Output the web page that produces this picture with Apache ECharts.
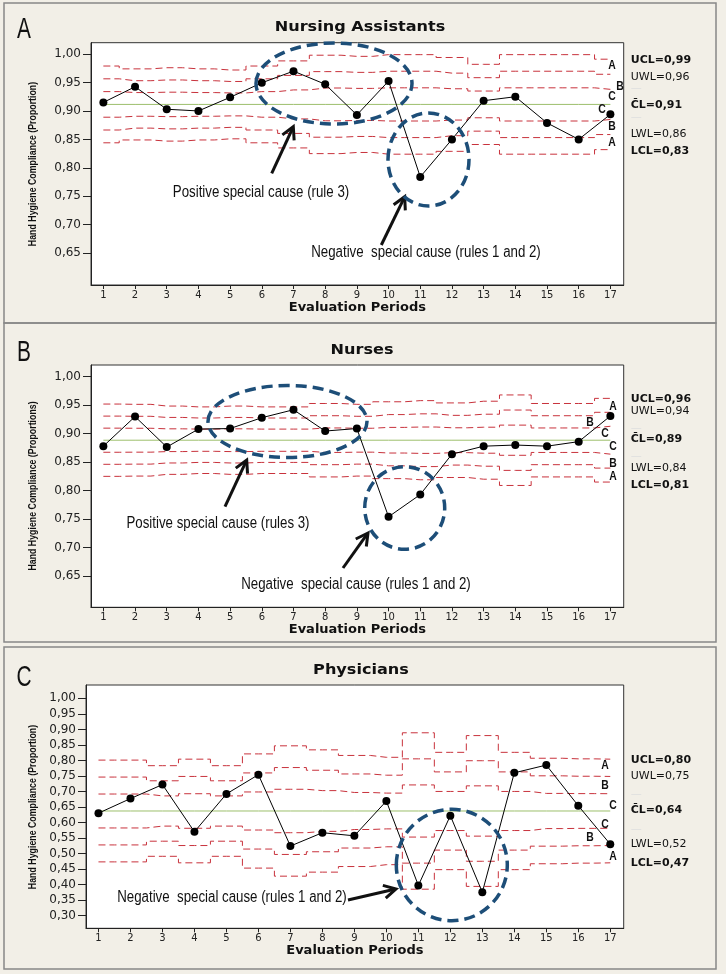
<!DOCTYPE html>
<html>
<head>
<meta charset="utf-8">
<script src="https://cdn.jsdelivr.net/npm/echarts@6/dist/echarts.min.js"></script>
<style>
html, body { margin: 0; padding: 0; background: #f2efe7; }
#chart { width: 726px; height: 974px; }
</style>
</head>
<body>
<div id="chart"></div>
<script>
// evaluation periods
var periods = [1, 2, 3, 4, 5, 6, 7, 8, 9, 10, 11, 12, 13, 14, 15, 16, 17];

// A - nursing assistants
var propA = [0.915, 0.9425, 0.903, 0.900, 0.924, 0.9495, 0.970, 0.947, 0.893, 0.9525, 0.784, 0.850, 0.918, 0.925, 0.879, 0.850, 0.894];
var uclA = [0.979, 0.974, 0.976, 0.974, 0.972, 0.979, 0.988, 0.998, 0.996, 0.999, 0.999, 0.994, 0.982, 0.999, 0.999, 0.999, 0.991];
var clA = 0.9115;
var limitLabelsA = ['UCL=0,99', 'UWL=0,96', '\u2014', '\u2014', 'LWL=0,86', 'LCL=0,83'];
var clLabelA = 'C\u0304L=0,91';

// B - nurses
var propB = [0.878, 0.930, 0.8765, 0.908, 0.909, 0.928, 0.942, 0.9046, 0.909, 0.754, 0.793, 0.864, 0.878, 0.880, 0.878, 0.886, 0.931];
var uclB = [0.952, 0.9515, 0.9485, 0.947, 0.9485, 0.947, 0.947, 0.953, 0.9515, 0.956, 0.958, 0.954, 0.957, 0.968, 0.953, 0.953, 0.962];
var clB = 0.8885;
var limitLabelsB = ['UCL=0,96', 'UWL=0,94', '\u2014', '\u2014', 'LWL=0,84', 'LCL=0,81'];
var clLabelB = 'C\u0304L=0,89';

// C - physicians
var propC = [0.630, 0.677, 0.722, 0.570, 0.692, 0.754, 0.524, 0.567, 0.557, 0.669, 0.397, 0.622, 0.375, 0.760, 0.785, 0.654, 0.530];
var uclC = [0.801, 0.801, 0.783, 0.804, 0.783, 0.821, 0.847, 0.834, 0.816, 0.810, 0.889, 0.826, 0.880, 0.826, 0.807, 0.805, 0.804];
var clC = 0.637;
var limitLabelsC = ['UCL=0,80', 'UWL=0,75', '\u2014', '\u2014', 'LWL=0,52', 'LCL=0,47'];
var clLabelC = 'C\u0304L=0,64';

// y tick values
var yTicksAB = [0.65, 0.70, 0.75, 0.80, 0.85, 0.90, 0.95, 1.00];
var yTicksC = [0.30, 0.35, 0.40, 0.45, 0.50, 0.55, 0.60, 0.65, 0.70, 0.75, 0.80, 0.85, 0.90, 0.95, 1.00];

var RED = '#c8323c';
var GREEN = '#9dbf6c';
var BLUE = '#1d4e78';
var ARIAL = '"Liberation Sans", Arial, sans-serif';
var VERD = '"DejaVu Sans", Verdana, sans-serif';

function fmt(v) { return v.toFixed(2).replace('.', ','); }

function xAxisFor(gi) {
    return {
        type: 'value', gridIndex: gi, min: 0.61, max: 17.42,
        name: 'Evaluation Periods', nameLocation: 'middle', nameGap: 15,
        nameTextStyle: { fontFamily: VERD, fontWeight: 'bold', fontSize: 13, color: '#111' },
        axisLine: { lineStyle: { color: '#222' } },
        axisTick: { customValues: periods, length: 4, lineStyle: { color: '#222' } },
        axisLabel: { customValues: periods, fontFamily: VERD, fontSize: 10, color: '#222', margin: 5 },
        splitLine: { show: false }
    };
}

function yAxisFor(gi, min, max, ticks) {
    return {
        type: 'value', gridIndex: gi, min: min, max: max,
        axisLine: { show: true, lineStyle: { color: '#222' } },
        axisTick: { show: true, customValues: ticks, length: 8, lineStyle: { color: '#222' } },
        axisLabel: { customValues: ticks, formatter: fmt, fontFamily: VERD, fontSize: 12, color: '#222', margin: 10 },
        splitLine: { show: false }
    };
}

function panelSeries(gi, prop, ucl, cl, labels, clLabel) {
    var out = [];
    // zone limits: +-1, 2, 3 sigma around the centre line
    [3, 2, 1, -1, -2, -3].forEach(function(k, j) {
        var vals = ucl.map(function(u) { return cl + k / 3 * (u - cl); });
        var outer = Math.abs(k) === 3;
        out.push({
            type: 'line', xAxisIndex: gi, yAxisIndex: gi, step: 'middle',
            symbol: 'none', silent: true, z: 2,
            lineStyle: { color: RED, width: 1, type: [7, 4] },
            data: periods.map(function(p, i) { return [p, vals[i]]; }),
            markLine: {
                symbol: 'none', silent: true, lineStyle: { color: 'rgba(0,0,0,0)', width: 0 },
                data: [{ yAxis: vals[vals.length - 1] }],
                label: {
                    show: true, position: 'end', distance: 7, formatter: labels[j],
                    fontFamily: VERD, fontSize: 11,
                    fontWeight: outer ? 'bold' : 'normal',
                    color: Math.abs(k) === 1 ? '#dedede' : '#111'
                }
            }
        });
    });
    out.push({
        type: 'line', xAxisIndex: gi, yAxisIndex: gi, symbol: 'none', silent: true, z: 2,
        lineStyle: { color: GREEN, width: 1 },
        data: periods.map(function(p) { return [p, cl]; }),
        markLine: {
            symbol: 'none', silent: true, lineStyle: { color: 'rgba(0,0,0,0)', width: 0 },
            data: [{ yAxis: cl }],
            label: { show: true, position: 'end', distance: 7, formatter: clLabel, fontFamily: VERD, fontSize: 11, fontWeight: 'bold', color: '#111' }
        }
    });
    out.push({
        type: 'line', xAxisIndex: gi, yAxisIndex: gi, z: 5,
        symbol: 'circle', symbolSize: 8,
        itemStyle: { color: '#000' }, lineStyle: { color: '#000', width: 1 },
        data: periods.map(function(p, i) { return [p, prop[i]]; })
    });
    return out;
}

function txt(x, y, s, font, sx, rot) {
    return {
        type: 'text', x: x, y: y, z: 50, scaleX: sx || 1, rotation: rot || 0,
        style: { text: s, font: font, fill: '#111', textAlign: 'center', textVerticalAlign: 'middle', align: 'center', verticalAlign: 'middle' }
    };
}

function ellipse(cx, cy, rx, ry) {
    return {
        type: 'ellipse', z: 60, silent: true,
        shape: { cx: cx, cy: cy, rx: rx, ry: ry },
        style: { fill: 'none', stroke: BLUE, lineWidth: 3.5, lineDash: [11, 6] }
    };
}

function arrow(x1, y1, x2, y2) {
    var dx = x2 - x1, dy = y2 - y1, L = Math.sqrt(dx * dx + dy * dy);
    var ux = dx / L, uy = dy / L, h = 12, w = 6.5;
    var bx = x2 - ux * h, by = y2 - uy * h;
    return [
        { type: 'line', z: 55, shape: { x1: x1, y1: y1, x2: x2 - ux * 1.5, y2: y2 - uy * 1.5 }, style: { stroke: '#111', lineWidth: 3 } },
        { type: 'polyline', z: 55, shape: { points: [[bx - uy * w, by + ux * w], [x2, y2], [bx + uy * w, by - ux * w]] }, style: { stroke: '#111', lineWidth: 3, fill: null } }
    ];
}

var bigFont = '29px ' + ARIAL;
var titleFont = 'bold 14px ' + VERD;
var noteFont = '16px ' + ARIAL;
var zoneFont = 'bold 13px ' + ARIAL;
var yNameFont = 'bold 11px ' + ARIAL;
var R90 = Math.PI / 2;
var NS = 0.83;

var graphics = [
    { type: 'rect', z: -10, shape: { x: 4, y: 3, width: 712, height: 320 }, style: { fill: 'none', stroke: '#888', lineWidth: 1.5 } },
    { type: 'rect', z: -10, shape: { x: 4, y: 323, width: 712, height: 319 }, style: { fill: 'none', stroke: '#888', lineWidth: 1.5 } },
    { type: 'rect', z: -10, shape: { x: 4, y: 647, width: 712, height: 322 }, style: { fill: 'none', stroke: '#888', lineWidth: 1.5 } },

    txt(24, 30, 'A', bigFont, 0.72), txt(24, 353, 'B', bigFont, 0.72), txt(24, 678, 'C', bigFont, 0.72),
    txt(360, 27, 'Nursing Assistants', titleFont, 1.15),
    txt(362, 350, 'Nurses', titleFont, 1.15),
    txt(361, 670, 'Physicians', titleFont, 1.15),

    txt(33, 164, 'Hand Hygiene Compliance (Proportion)', yNameFont, 0.8, R90),
    txt(33, 486, 'Hand Hygiene Compliance (Proportions)', yNameFont, 0.8, R90),
    txt(33, 807, 'Hand Hygiene Compliance (Proportion)', yNameFont, 0.8, R90),

    // panel A notes
    ellipse(334, 83.5, 78, 40.5),
    ellipse(428.5, 159.5, 40.5, 46.5),
    txt(261, 193, 'Positive special cause (rule 3)', noteFont, NS),
    txt(426, 253, 'Negative  special cause (rules 1 and 2)', noteFont, NS),
    txt(612, 65, 'A', zoneFont, 0.8), txt(620, 86, 'B', zoneFont, 0.8), txt(612, 96, 'C', zoneFont, 0.8),
    txt(602, 109, 'C', zoneFont, 0.8), txt(612, 126, 'B', zoneFont, 0.8), txt(612, 142, 'A', zoneFont, 0.8),

    // panel B notes
    ellipse(287.5, 421.5, 79.5, 36),
    ellipse(404.7, 508, 40, 41.3),
    txt(218, 524, 'Positive special cause (rules 3)', noteFont, NS),
    txt(356, 585, 'Negative  special cause (rules 1 and 2)', noteFont, NS),
    txt(613, 406, 'A', zoneFont, 0.8), txt(590, 422, 'B', zoneFont, 0.8), txt(605, 433, 'C', zoneFont, 0.8),
    txt(613, 446, 'C', zoneFont, 0.8), txt(613, 463, 'B', zoneFont, 0.8), txt(613, 476, 'A', zoneFont, 0.8),

    // panel C notes
    ellipse(451.8, 865, 55.5, 55.7),
    txt(232, 898, 'Negative  special cause (rules 1 and 2)', noteFont, NS),
    txt(605, 765, 'A', zoneFont, 0.8), txt(605, 785, 'B', zoneFont, 0.8), txt(613, 805, 'C', zoneFont, 0.8),
    txt(605, 824, 'C', zoneFont, 0.8), txt(590, 837, 'B', zoneFont, 0.8), txt(613, 856, 'A', zoneFont, 0.8)
]
.concat(arrow(271.7, 173.3, 293.3, 126.7))
.concat(arrow(381.3, 245, 404.7, 196.7))
.concat(arrow(225, 506.7, 246.7, 460))
.concat(arrow(343, 568, 368, 533))
.concat(arrow(348, 900, 396, 889));

var chart = echarts.init(document.getElementById('chart'), null, { renderer: 'canvas' });
chart.setOption({
    backgroundColor: '#f2efe7',
    animation: false,
    grid: [
        { left: 91, right: 102.3, top: 42.7, height: 242.3, show: true, backgroundColor: '#fff', borderColor: '#333', borderWidth: 1 },
        { left: 91, right: 102.3, top: 365, height: 242.3, show: true, backgroundColor: '#fff', borderColor: '#333', borderWidth: 1 },
        { left: 86, right: 102.3, top: 685, height: 243.3, show: true, backgroundColor: '#fff', borderColor: '#333', borderWidth: 1 }
    ],
    xAxis: [xAxisFor(0), xAxisFor(1), xAxisFor(2)],
    yAxis: [
        yAxisFor(0, 0.594, 1.02, yTicksAB),
        yAxisFor(1, 0.595, 1.0206, yTicksAB),
        yAxisFor(2, 0.259, 1.043, yTicksC)
    ],
    series: []
        .concat(panelSeries(0, propA, uclA, clA, limitLabelsA, clLabelA))
        .concat(panelSeries(1, propB, uclB, clB, limitLabelsB, clLabelB))
        .concat(panelSeries(2, propC, uclC, clC, limitLabelsC, clLabelC)),
    graphic: { elements: graphics }
});
</script>
</body>
</html>
